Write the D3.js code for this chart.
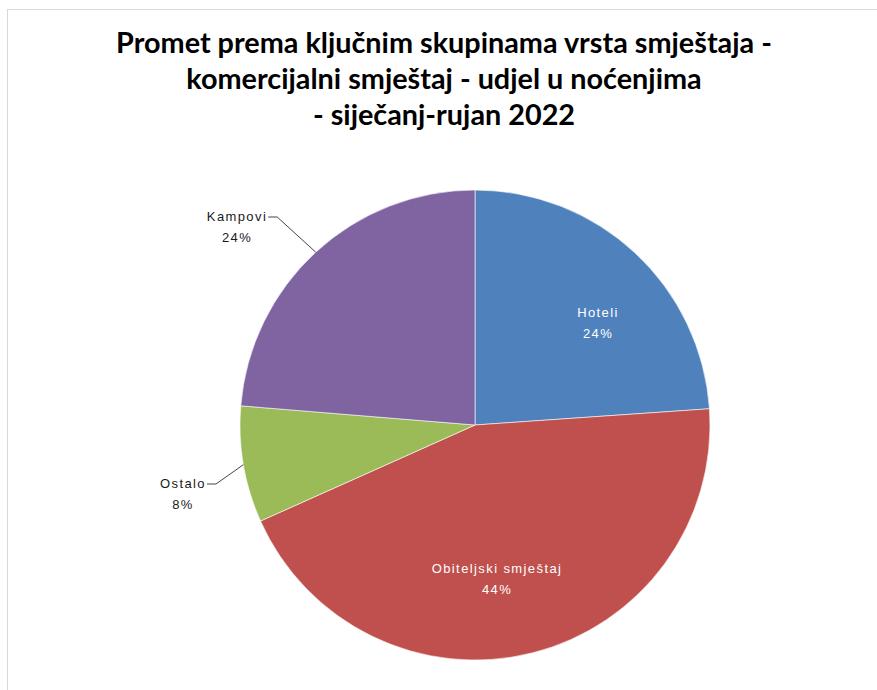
<!DOCTYPE html>
<html>
<head>
<meta charset="utf-8">
<script src="https://cdn.jsdelivr.net/npm/d3@7"></script>
<style>
  body { margin: 0; background: #fff; }
  svg { display: block; }
</style>
</head>
<body>
<svg id="chart" width="877" height="690"></svg>
<script>
// data (shares of overnight stays, %)
var categories = ['Hoteli', 'Obiteljski smještaj', 'Ostalo', 'Kampovi'];
var shares = [23.9, 44.4, 8.0, 23.7];
var colors = ['#4F81BD', '#C0504D', '#9BBB59', '#8064A2'];
var titleLines = [
  'Promet prema ključnim skupinama vrsta smještaja -',
  'komercijalni smještaj - udjel u noćenjima',
  '- siječanj-rujan 2022'
];

var width = 877, height = 690;
var cx = 475, cy = 425, r = 235;

// label placement (relative to pie centre), inside = white text, outside = with leader
var labelLayout = {
  'Hoteli': {x: 123, y: -104, inside: true},
  'Obiteljski smještaj': {x: 22, y: 152, inside: true},
  'Ostalo': {x: -292, y: 67, inside: false},
  'Kampovi': {x: -238, y: -200, inside: false}
};

var svg = d3.select('#chart');

svg.append('rect')
    .attr('x', 7.5).attr('y', 9.5)
    .attr('width', 900).attr('height', 700)
    .attr('fill', '#fff')
    .attr('stroke', '#d9d9d9');

svg.append('text')
    .attr('text-anchor', 'middle')
    .style('font-family', 'Lato, "Open Sans", sans-serif')
    .style('font-weight', 'bold')
    .style('font-size', '28.8px')
    .attr('fill', '#000')
  .selectAll('tspan')
    .data(titleLines)
  .enter().append('tspan')
    .attr('x', 444)
    .attr('y', function(d, i) { return 53 + i * 36; })
    .text(function(d) { return d; });

var data = categories.map(function(c, i) {
  return {name: c, value: shares[i], color: colors[i]};
});

var pie = d3.pie().sort(null).value(function(d) { return d.value; });
var arc = d3.arc().innerRadius(0).outerRadius(r);
var arcs = pie(data);

var g = svg.append('g').attr('transform', 'translate(' + cx + ',' + cy + ')');

g.selectAll('path.slice')
    .data(arcs)
  .enter().append('path')
    .attr('class', 'slice')
    .attr('d', arc)
    .attr('fill', function(d) { return d.data.color; })
    .attr('stroke', '#fff')
    .attr('stroke-width', 0.6);

var fmt = function(v) { return Math.round(v) + '%'; };

var labels = g.selectAll('g.lbl')
    .data(arcs)
  .enter().append('g')
    .attr('class', 'lbl');

labels.each(function(d) {
  var sel = d3.select(this);
  var L = labelLayout[d.data.name];
  var t = sel.append('text')
      .attr('text-anchor', 'middle')
      .style('font-family', '"Liberation Sans", Arial, sans-serif')
      .style('font-size', '13px')
      .style('letter-spacing', '1.4px')
      .attr('fill', L.inside ? '#fff' : '#1a1a1a');
  t.append('tspan').attr('x', L.x).attr('y', L.y - 4).text(d.data.name);
  t.append('tspan').attr('x', L.x).attr('y', L.y + 17).text(fmt(d.data.value));

  if (!L.inside) {
    var mid = (d.startAngle + d.endAngle) / 2;
    var edge = [Math.sin(mid) * r, -Math.cos(mid) * r];
    var w = t.select('tspan').node().getComputedTextLength();
    var x0 = L.x + w / 2 + 1, y0 = L.y - 8;
    sel.append('polyline')
        .attr('points', [[x0, y0], [x0 + 9, y0], edge].join(' '))
        .attr('fill', 'none')
        .attr('stroke', '#444')
        .attr('stroke-width', 1);
  }
});
</script>
</body>
</html>
